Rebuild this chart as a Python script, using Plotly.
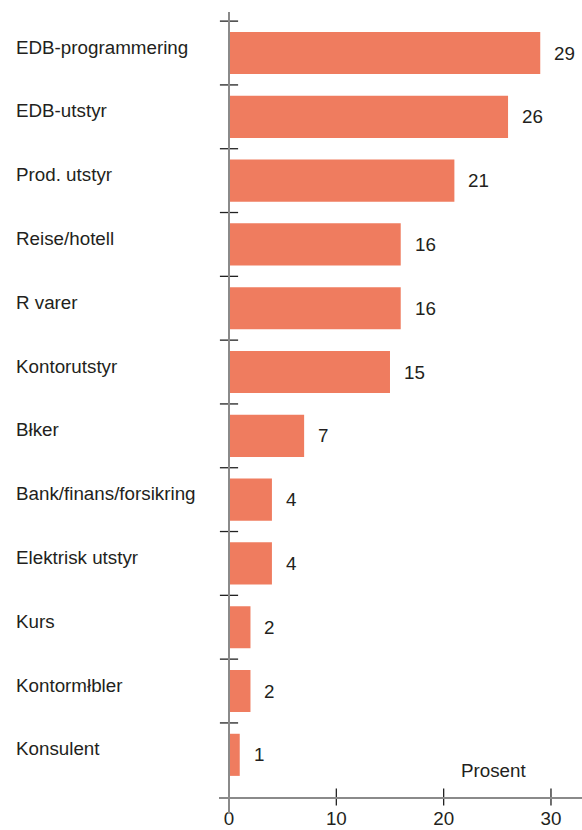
import plotly.graph_objects as go

# Data
categories = [
    "EDB-programmering", "EDB-utstyr", "Prod. utstyr", "Reise/hotell",
    "R varer", "Kontorutstyr", "Błker", "Bank/finans/forsikring",
    "Elektrisk utstyr", "Kurs", "Kontormłbler", "Konsulent",
]
values = [29, 26, 21, 16, 16, 15, 7, 4, 4, 2, 2, 1]
x_ticks = [0, 10, 20, 30]
x_title = "Prosent"

BAR_COLOR = "#EF7C5F"
TEXT_COLOR = "#231F20"
AXIS_COLOR = "#8A8A8A"
FONT = "Liberation Sans, Arial, sans-serif"
FSIZE = 18.8

idx = list(range(len(categories)))

fig = go.Figure()

fig.add_trace(go.Bar(
    x=values, y=idx, orientation="h",
    width=0.66,
    marker=dict(color=BAR_COLOR, line=dict(width=0)),
    hoverinfo="skip",
    showlegend=False,
))

# Boundary ticks crossing the vertical axis between categories
fig.add_trace(go.Scatter(
    x=[0] * len(categories),
    y=[i - 0.5 for i in idx],
    mode="markers",
    marker=dict(symbol="line-ew", size=13, line=dict(width=1.3, color="#222")),
    cliponaxis=False,
    hoverinfo="skip",
    showlegend=False,
))

y_top, y_bottom = -0.643, 11.661

# Tick crosses on the horizontal axis
fig.add_trace(go.Scatter(
    x=x_ticks[1:],
    y=[y_bottom] * (len(x_ticks) - 1),
    mode="markers",
    marker=dict(symbol="line-ns", size=12, line=dict(width=1.3, color="#222")),
    cliponaxis=False,
    hoverinfo="skip",
    showlegend=False,
))

annotations = []
for i, (c, v) in enumerate(zip(categories, values)):
    annotations.append(dict(
        x=-0.5647, xref="paper", y=i, yref="y",
        text=c, showarrow=False, xanchor="left", yanchor="middle",
        yshift=6, font=dict(family=FONT, size=FSIZE, color=TEXT_COLOR),
    ))
    annotations.append(dict(
        x=v, xref="x", y=i, yref="y",
        text=str(v), showarrow=False, xanchor="left", yanchor="middle",
        xshift=12, font=dict(family=FONT, size=FSIZE, color=TEXT_COLOR),
    ))

annotations.append(dict(
    x=0.661, xref="paper", y=0.034, yref="paper",
    text=x_title, showarrow=False, xanchor="left", yanchor="middle",
    font=dict(family=FONT, size=FSIZE, color=TEXT_COLOR),
))

fig.update_layout(
    width=582, height=830,
    margin=dict(l=219, r=0, t=12, b=33),
    paper_bgcolor="white", plot_bgcolor="white",
    bargap=0.34,
    annotations=annotations,
    shapes=[dict(
        type="line", xref="x", yref="paper",
        x0=0, x1=0, y0=-0.021, y1=1,
        line=dict(color=AXIS_COLOR, width=2),
    )],
    xaxis=dict(
        range=[-0.932, 32.89],
        tickvals=x_ticks,
        ticks="",
        ticklabelstandoff=3,
        automargin=False,
        showgrid=False, zeroline=False,
        showline=True, linecolor=AXIS_COLOR, linewidth=2,
        tickfont=dict(family=FONT, size=FSIZE, color=TEXT_COLOR),
        fixedrange=True,
    ),
    yaxis=dict(
        range=[y_bottom, y_top],
        automargin=False,
        showticklabels=False, ticks="",
        showgrid=False, zeroline=False, showline=False,
        fixedrange=True,
    ),
)

fig.write_html("out.html")
